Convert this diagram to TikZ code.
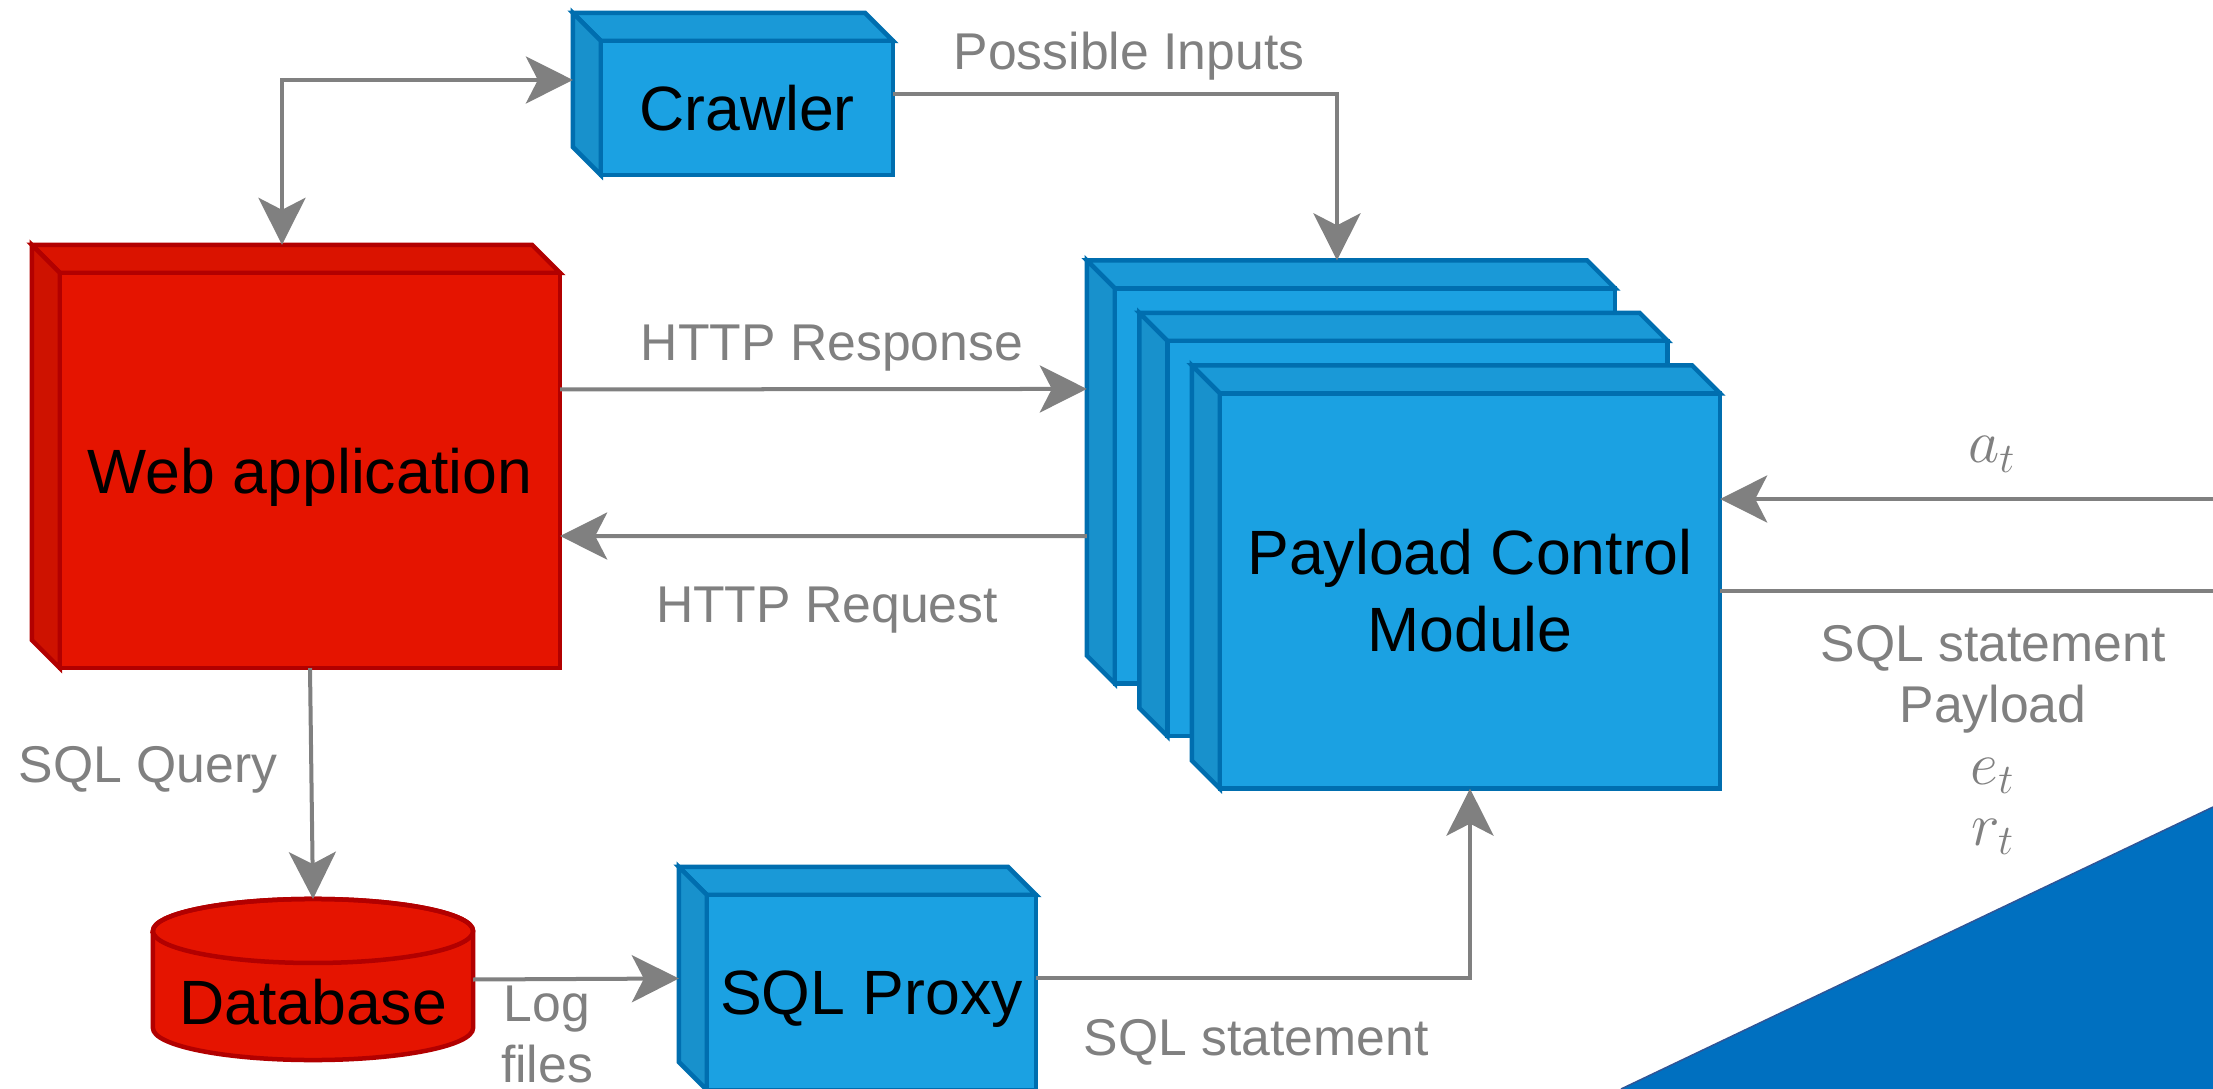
\documentclass[tikz,border=0pt]{standalone}
\usepackage{fontspec}
\setmainfont{Liberation Sans}
\usetikzlibrary{arrows.meta,backgrounds}

\definecolor{redfront}{HTML}{E51400}
\definecolor{redtop}{HTML}{DA1300}
\definecolor{redside}{HTML}{CE1200}
\definecolor{redline}{HTML}{B20000}
\definecolor{bluefront}{HTML}{1BA1E2}
\definecolor{bluetop}{HTML}{1A99D7}
\definecolor{blueside}{HTML}{1891CC}
\definecolor{blueline}{HTML}{006EAF}
\definecolor{wire}{HTML}{808080}
\definecolor{agentblue}{HTML}{0070C0}
\definecolor{agentedge}{HTML}{2F5597}

\newcommand\boxtext{\fontsize{17.8pt}{21.9pt}\selectfont}
\newcommand\lbltext{\fontsize{14.7pt}{17.4pt}\selectfont}
\newcommand\symtext{\fontsize{18pt}{17.4pt}\selectfont}

\begin{document}
\begin{tikzpicture}[x=0.01cm,y=-0.01cm,
  >={Stealth[length=4.7mm,width=4.7mm,inset=1.2mm]},
  bk/.style={xshift=-2.8mm,yshift=2.8mm},
  conn/.style={draw=wire,line width=0.4mm},
  lbl/.style={text=wire,font=\lbltext,inner sep=0pt,anchor=base},
  cube/.style n args={3}{rectangle,draw=#1line,fill=#1front,line width=0.45mm,
    inner sep=0pt,outer sep=0pt,minimum width=#2,minimum height=#3,
    font=\boxtext,align=center,
    append after command={\pgfextra{
      \filldraw[draw=#1line,fill=#1top,line width=0.45mm]
        (\tikzlastnode.north west) -- ([bk]\tikzlastnode.north west)
        -- ([bk]\tikzlastnode.north east) -- (\tikzlastnode.north east) -- cycle;
      \filldraw[draw=#1line,fill=#1side,line width=0.45mm]
        (\tikzlastnode.north west) -- ([bk]\tikzlastnode.north west)
        -- ([bk]\tikzlastnode.south west) -- (\tikzlastnode.south west) -- cycle;
    }}},
  dbcyl/.style={rectangle,inner sep=0pt,outer sep=0pt,
    minimum width=3.2cm,minimum height=1.61cm,
    font=\boxtext,text height=8.9mm,text depth=0pt,
    append after command={\pgfextra{\begin{pgfonlayer}{background}
      \filldraw[draw=redline,fill=redfront,line width=0.45mm]
        ([yshift=-3.2mm]\tikzlastnode.north west) -- ([yshift=3.2mm]\tikzlastnode.south west)
        arc[start angle=180,end angle=360,x radius=16mm,y radius=3.2mm]
        -- ([yshift=-3.2mm]\tikzlastnode.north east)
        arc[start angle=0,end angle=180,x radius=16mm,y radius=3.2mm] -- cycle;
      \draw[redline,line width=0.45mm]
        ([yshift=-3.2mm]\tikzlastnode.north) ellipse[x radius=16mm,y radius=3.2mm];
    \end{pgfonlayer}}}}]
\useasboundingbox (0,0) rectangle (2213,1089);

\node[cube={red}{5cm}{3.95cm},text depth=0pt] (web) at (310,470.5) {Web application};
\node[cube={blue}{2.92cm}{1.34cm},text depth=0pt] (crawler) at (747,108) {Crawler};
\foreach \i/\txt in {1/{},2/{},3/{Payload Control\\Module}}
  \node[cube={blue}{5cm}{3.95cm}] (pcm\i) at ({1365+52.5*(\i-1)},{486+52.5*(\i-1)}) {\txt};
\node[cube={blue}{3.29cm}{1.95cm},text depth=0pt] (proxy) at (871.5,992.5) {SQL Proxy};
\node[dbcyl] (db) at (313,979.5) {Database};

\draw[conn,<->] ([bk]web.north) |- ([bk]crawler.west);
\draw[conn,->] ([yshift=1.4mm]crawler.east) -| ([bk]pcm1.north);
\draw[conn,->] ([yshift=8.1mm]web.east) -- ([xshift=-2.8mm,yshift=9.7mm]pcm1.west);
\draw[conn,->] ([xshift=-2.8mm,yshift=-5mm]pcm1.west) -- ([yshift=-6.55mm]web.east);
\draw[conn,->] (web.south) -- (db.north);
\draw[conn,->] (db.east) -- ([xshift=-2.8mm,yshift=1.4mm]proxy.west);
\draw[conn,->] ([yshift=1.4mm]proxy.east) -| (pcm3.south);
\coordinate (agent) at (2213,591.5);
\coordinate (agentin) at (2213,499);
\draw[conn,->] (agentin) -- (agentin -| pcm3.east);
\draw[conn] (pcm3.east) -- (pcm3.east -| agent);

\node[lbl] (inputs) at (1129,70) {Possible Inputs};
\node[lbl] (resp) at (832,361) {HTTP Response};
\node[lbl] (req) at (827,623) {HTTP Request};
\node[lbl] (query) at (148,782) {SQL Query};
\node[lbl,anchor=north,align=center] (logs) at (547,985) {Log\\files};
\node[lbl] (stmt) at (1256,1055) {SQL statement};
\node[lbl,font=\symtext] (act) at (1992,463) {$a_t$};
\node[lbl,anchor=north,align=center] (obs) at (1993,625)
  {SQL statement\\Payload\\{\symtext$e_t$}\\{\symtext$r_t$}};

\fill[agentblue] (1621,1089) -- (2213,807) -- (2213,1089) -- cycle;
\draw[agentedge,line width=0.15mm] (1621,1089) -- (2213,807);
\end{tikzpicture}
\end{document}
